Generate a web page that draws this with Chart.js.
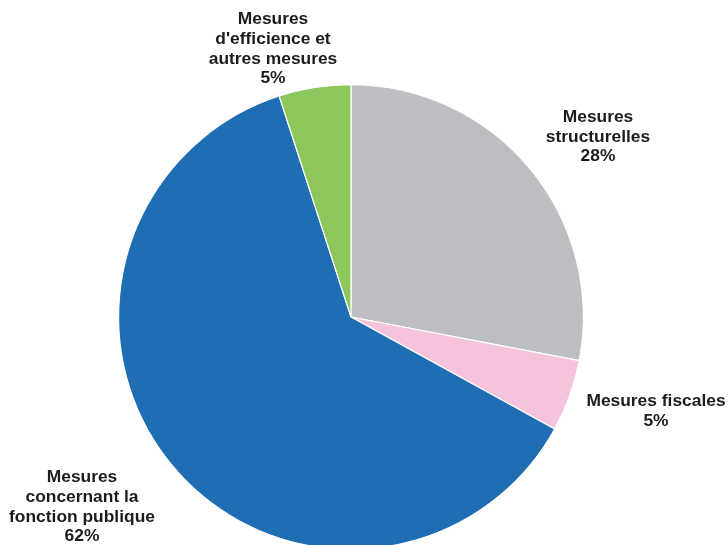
<!DOCTYPE html>
<html><head><meta charset="utf-8">
<script src="https://cdn.jsdelivr.net/npm/chart.js@4.4.0/dist/chart.umd.min.js"></script>
<style>html,body{margin:0;padding:0;background:#fff;overflow:hidden;width:728px;height:545px}canvas{display:block}</style>
</head><body>
<canvas id="c" width="728" height="560" style="width:728px;height:560px"></canvas>
<script>
const categories = [
  ["Mesures", "structurelles"],
  ["Mesures fiscales"],
  ["Mesures", "concernant la", "fonction publique"],
  ["Mesures", "d'efficience et", "autres mesures"]
];
const values = [28, 5, 62, 5];
const percentLabels = ["28%", "5%", "62%", "5%"];
const colors = ["#bdbec1", "#f5c3db", "#1f6db3", "#8dc75c"];
// label anchor positions (layout, centre of text block)
const labelPos = [[598, 137], [656, 411], [82, 507], [273, 49]];

const labelPlugin = {
  id: 'outLabels',
  afterDraw(chart) {
    const ctx = chart.ctx;
    ctx.save();
    ctx.font = 'bold 17.4px "Liberation Sans", Arial, sans-serif';
    ctx.fillStyle = '#1e1b1c';
    ctx.textAlign = 'center';
    ctx.textBaseline = 'middle';
    const lh = 19.6;
    categories.forEach((lines, i) => {
      const all = lines.concat([percentLabels[i]]);
      const [cx, cy] = labelPos[i];
      const y0 = cy - (all.length - 1) * lh / 2;
      all.forEach((t, k) => ctx.fillText(t, cx, y0 + k * lh));
    });
    ctx.restore();
  }
};

new Chart(document.getElementById('c'), {
  type: 'pie',
  data: {
    labels: categories.map(l => l.join(' ')),
    datasets: [{
      data: values,
      backgroundColor: colors,
      borderColor: '#ffffff',
      borderWidth: 1.2
    }]
  },
  options: {
    responsive: false,
    animation: false,
    layout: { padding: { top: 84, bottom: 10, left: 0, right: 26 } },
    plugins: { legend: { display: false }, tooltip: { enabled: false } }
  },
  plugins: [labelPlugin]
});
</script>
</body></html>
